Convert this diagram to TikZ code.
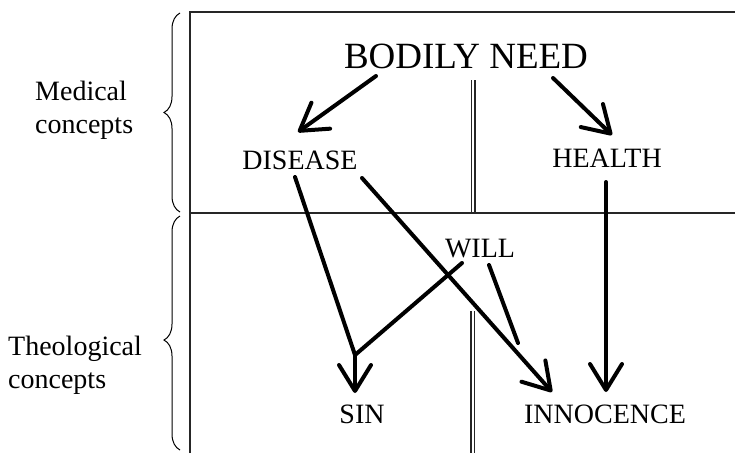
\documentclass[tikz,border=0pt]{standalone}
\usepackage{fontspec}
\setmainfont{Liberation Serif}
\usetikzlibrary{arrows.meta,decorations.pathreplacing}
\begin{document}
\begin{tikzpicture}[x=1pt,y=-1pt,
  frame/.style={line width=1.4pt,black!85},
  dbl/.style={line width=1.1pt,black!85},
  brc/.style={line width=1pt,decorate,decoration={brace,amplitude=16pt}},
  lab/.style={inner sep=0pt,font=\fontsize{28}{33}\selectfont},
  big/.style={inner sep=0pt,font=\fontsize{37}{40}\selectfont},
  side/.style={inner sep=0pt,font=\fontsize{28}{33}\selectfont,align=left,anchor=base west},
  conn/.style={line width=4pt,line cap=round,line join=round},
  arr/.style={conn,-{Straight Barb[length=26pt,width=32pt,line cap=round,line join=round]}}]
\useasboundingbox (0,0) rectangle (735,453);
% frame
\draw[frame] (190,453) -- (190,12) -- (735,12);
\draw[frame] (190,213) -- (735,213);
\draw[dbl] (471.5,80) -- (471.5,213) (475,80) -- (475,213);
\draw[dbl] (471,311) -- (471,453) (474.5,311) -- (474.5,453);
% braces
\draw[brc] (180,212) -- (180,13);
\draw[brc,decoration={aspect=0.47}] (180,450) -- (180,216);
% side labels (anchor = baseline of the last line)
\node[side] (med) at (35,133) {Medical\\concepts};
\node[side] (theo) at (8,388) {Theological\\concepts};
% nodes
\node[big] (bn) at (466,56) {BODILY NEED};
\node[lab] (dis) at (300,160) {DISEASE};
\node[lab] (hea) at (607,158) {HEALTH};
\node[lab] (will) at (480,249) {WILL};
\node[lab] (sin) at (362,414) {SIN};
\node[lab] (inn) at (605,414) {INNOCENCE};
% connector end points
\coordinate (bnL) at (376,76);
\coordinate (bnR) at (553,78);
\coordinate (disT) at (298,132);
\coordinate (heaT) at (612,135);
\coordinate (heaB) at (606,182);
\coordinate (disB) at (295,177);
\coordinate (disR) at (362,178);
\coordinate (knee) at (355,355);
\coordinate (sinT) at (355,393);
\coordinate (innT) at (552,392);
\coordinate (innT2) at (606,392);
\coordinate (willL) at (462,263);
\coordinate (willR) at (489,265);
\coordinate (merge) at (518,343);
% arrows
\draw[arr] (bnL) -- (disT);
\draw[arr] (bnR) -- (heaT);
\draw[arr] (heaB) -- (innT2);
\draw[arr] (disR) -- (innT);
\draw[conn] (disB) -- (knee);
\draw[conn] (willL) -- (knee);
\draw[arr] (knee) -- (sinT);
\draw[conn] (willR) -- (merge);
\end{tikzpicture}
\end{document}
